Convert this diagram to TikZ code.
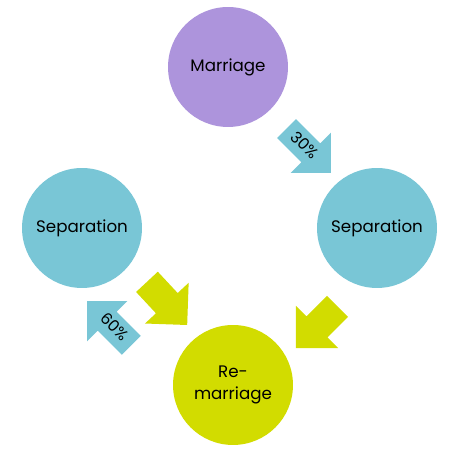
\documentclass[tikz,border=0pt]{standalone}
\usepackage{fontspec}
\setmainfont{Poppins}
\usetikzlibrary{shapes.arrows}

\definecolor{lilac}{HTML}{AD94DC}
\definecolor{aqua}{HTML}{79C6D6}
\definecolor{lime}{HTML}{D2DC00}

\tikzset{
  bubble/.style={circle, minimum size=2.4cm, inner sep=0pt, align=center, font=\fontsize{9.5}{13}\selectfont},
  blockarrow/.style={single arrow, minimum height=1.18cm, inner xsep=1pt, inner ysep=0.29cm,
    single arrow head extend=0.3cm, font=\fontsize{9}{10}\selectfont},
  labelarrow/.style={blockarrow, minimum height=1.25cm, text height=0.22cm, text depth=0.04cm,
    inner ysep=0.13cm, single arrow head extend=0.3cm}
}

\begin{document}
\begin{tikzpicture}[x=0.02cm, y=0.02cm]
    \useasboundingbox (0,0) rectangle (458,453);

    \node[bubble, fill=lilac] (marriage) at (228, 386) {Marriage};
    \node[bubble, fill=aqua] (sepright) at (377, 225) {Separation};
    \node[bubble, fill=aqua] (sepleft) at (82, 225) {Separation};
    \node[bubble, fill=lime] (remarriage) at (233, 68) {Re-\\marriage};

    % block arrows
    \node[labelarrow, fill=aqua, rotate=-45] (a30) at (304, 307) {30\%};
    \node[labelarrow, fill=aqua, rotate=-45, shape border rotate=180] (a60) at (114, 125) {60\%};
    \node[blockarrow, fill=lime, rotate=-47] (aleft) at (162, 155) {};
    \node[blockarrow, fill=lime, rotate=-135] (aright) at (322, 131) {};

\end{tikzpicture}
\end{document}
